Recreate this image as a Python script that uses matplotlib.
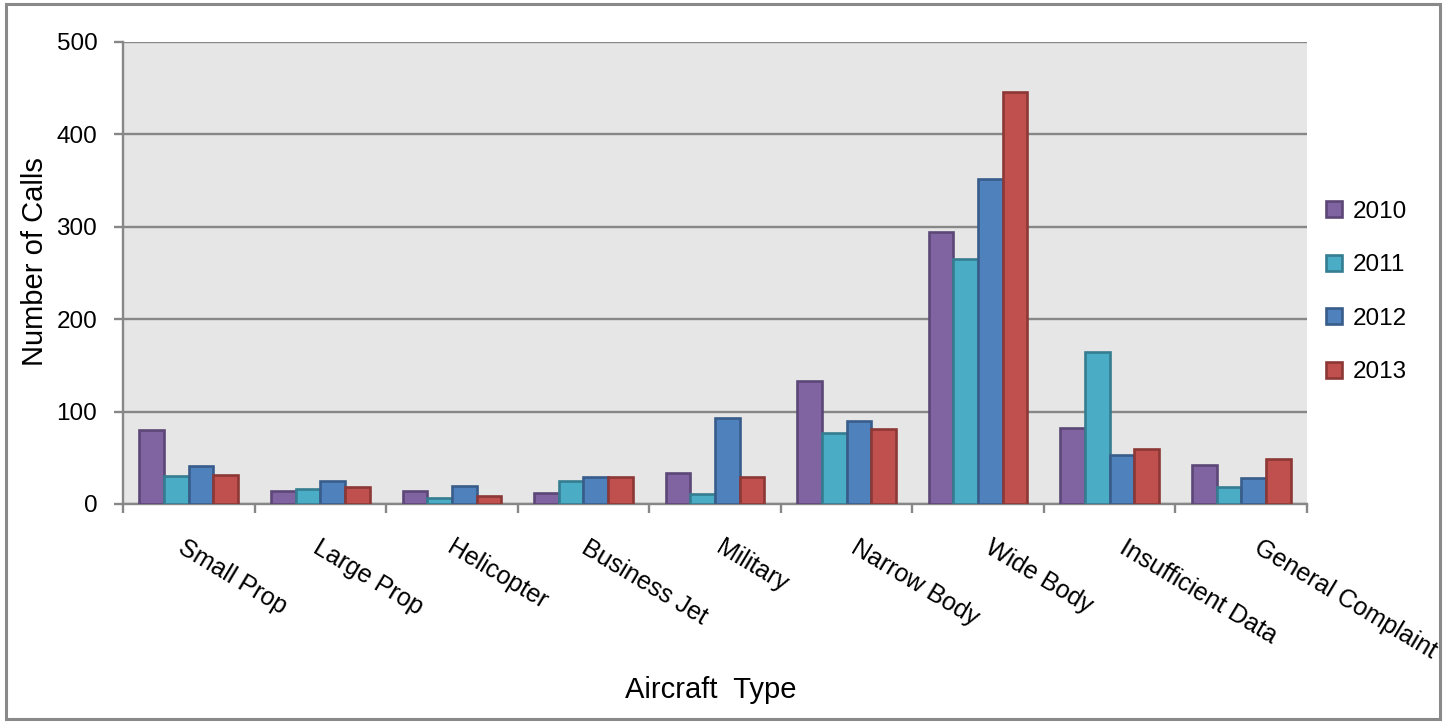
import matplotlib.pyplot as plt
import matplotlib.patches as mpatches
import matplotlib.transforms as mtransforms
import numpy as np

# values
categories = ["Small Prop", "Large Prop", "Helicopter", "Business Jet", "Military",
              "Narrow Body", "Wide Body", "Insufficient Data", "General Complaint"]
years = ["2010", "2011", "2012", "2013"]
calls_2010 = [80, 14, 14, 12, 34, 133, 294, 82, 42]
calls_2011 = [30, 16, 7, 25, 11, 77, 265, 164, 18]
calls_2012 = [41, 25, 19, 29, 93, 90, 352, 53, 28]
calls_2013 = [31, 18, 9, 29, 29, 81, 446, 60, 49]
y_ticks = [0, 100, 200, 300, 400, 500]

series = [calls_2010, calls_2011, calls_2012, calls_2013]
fills = ["#8064A2", "#4BACC6", "#4F81BD", "#C0504D"]
edges = ["#5C4776", "#357D91", "#385D8A", "#8C3836"]
grey = "#878787"

plt.rcParams['font.family'] = ['Liberation Sans', 'DejaVu Sans']

fig = plt.figure(figsize=(14.51, 7.22), dpi=100)
ax = fig.add_axes([123 / 1451, 1 - 504 / 722, (1307 - 123) / 1451, (504 - 42) / 722])
ax.set_facecolor("#E6E6E6")

x = np.arange(len(categories)) + 0.5
bar_w = 0.1875
for i, (vals, fc, ec) in enumerate(zip(series, fills, edges)):
    offset = (i - 1.5) * bar_w
    ax.bar(x + offset, vals, width=bar_w, color=fc, edgecolor=ec,
           linewidth=1.9, label=years[i], zorder=3)

ax.set_xlim(0, len(categories))
ax.set_ylim(0, 500)
ax.set_yticks(y_ticks)
ax.set_axisbelow(True)
ax.yaxis.grid(True, color=grey, linewidth=1.7)

# category boundaries as ticks, names drawn as rotated text
ax.set_xticks(np.arange(len(categories) + 1))
ax.set_xticklabels([])
ax.tick_params(axis='x', length=6.5, width=1.7, color=grey)
ax.tick_params(axis='y', length=6.5, width=1.7, color=grey, labelsize=17.5, pad=12)

for i, name in enumerate(categories):
    # excel drifts the rotated labels slightly to the right
    shift = mtransforms.ScaledTranslation((-2 + 2.9 * i) / 100, 0, fig.dpi_scale_trans)
    ax.text(x[i], -0.069, name, transform=ax.get_xaxis_transform() + shift,
            rotation=-31, rotation_mode='anchor', ha='left', va='top', fontsize=18)

for side in ["top", "right"]:
    ax.spines[side].set_visible(False)
for side in ["left", "bottom"]:
    ax.spines[side].set_color(grey)
    ax.spines[side].set_linewidth(1.7)

fig.text(35 / 1451, 1 - 262 / 722, "Number of Calls", rotation=90,
         ha='center', va='center', fontsize=21)
fig.text(711 / 1451, 1 - 690 / 722, "Aircraft  Type", ha='center', va='center', fontsize=21)

leg = ax.legend(loc='center left', bbox_to_anchor=(1326 / 1451, 1 - 292 / 722),
                bbox_transform=fig.transFigure, frameon=False, fontsize=17.5,
                handlelength=0.65, handleheight=0.65, handletextpad=0.45,
                labelspacing=1.3, borderpad=0, borderaxespad=0)

# outer chart border
fig.patches.append(mpatches.Rectangle((6 / 1451, 3 / 722), (1440 - 6) / 1451, (718 - 3) / 722,
                                      transform=fig.transFigure, fill=False,
                                      edgecolor="#898989", linewidth=2.2))

fig.savefig("out.png", dpi=100)
